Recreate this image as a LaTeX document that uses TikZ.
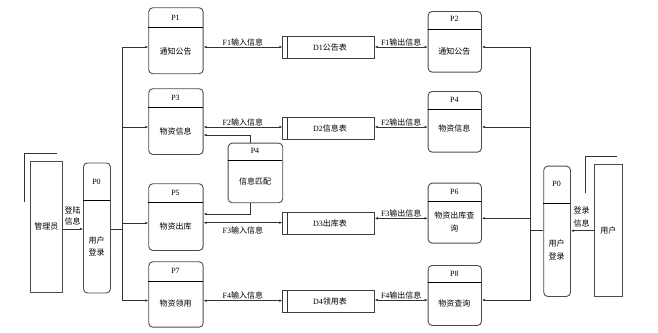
\documentclass[tikz,border=0pt]{standalone}
\usepackage{fontspec}
\setmainfont{Liberation Serif}
\newfontfamily\cjk{Noto Sans CJK SC}
\usetikzlibrary{arrows.meta, positioning}
\tikzset{
    % Process box - rounded, gray border
    proc box/.style={draw=black!70, rounded corners=4pt, line width=0.9pt, anchor=north west, inner sep=0pt},
    % Data store - open box with an inner bar
    store box/.style={draw=black!75, line width=0.8pt, anchor=north west, inner sep=0pt},
    % External entity - tall rectangle
    entity box/.style={draw=black!70, line width=0.9pt, anchor=north west, inner sep=0pt, font=\fontsize{8}{10}\selectfont\cjk},
    % Header line of a process box
    divider/.style={draw=black, line width=0.8pt},
    % Connectors
    link/.style={draw=black!80, line width=0.7pt},
    flow/.style={link, -{Latex[length=3pt,width=2.6pt]}},
    both flow/.style={link, {Latex[length=3pt,width=2.6pt]}-{Latex[length=3pt,width=2.6pt]}},
    % Texts: Chinese labels and process numbers
    txt/.style={font=\fontsize{8}{12.5}\selectfont\cjk, inner sep=0pt, align=center},
    num/.style={font=\fontsize{8}{10}\selectfont, inner sep=0pt}
}

\begin{document}
\begin{tikzpicture}[x=1pt, y=-1pt]
    \useasboundingbox (0,0) rectangle (658,332);

    % --- Process boxes: name/x/y/width/height/header line/id/id y/text/text y ---
    \foreach \n/\x/\y/\w/\h/\dv/\id/\iy/\lbl/\ly in {
        P1/148.3/7.3/54.4/66/27.3/P1/17.5/通知公告/51.7,
        P3/148.3/88.3/54.4/65.7/107.7/P3/97.5/物资信息/131,
        P5/148.3/183.3/54.4/66.7/202.7/P5/193.3/物资出库/226,
        P7/148.3/261.3/54.4/65.4/281/P7/271/物资领用/303.3,
        P4m/227.7/142.7/54.6/59.6/160/P4/151/信息匹配/181.7,
        P2/427.7/11/53.3/60.7/29/P2/19/通知公告/51.7,
        P4/427.7/91/53.3/60.7/109.3/P4/99.5/物资信息/128.3,
        P6/427.7/182.7/53.3/60/201/P6/191.7/物资出库查\\询/222,
        P8/427.7/265/53.3/60/282.7/P8/274/物资查询/303.3,
        P0a/83/162.5/27/130/200.7/P0/181.5/用户\\登录/246.3,
        P0b/543.3/165.7/26.7/130.3/203.3/P0/184.3/用户\\登录/250}
    {
        \node[proc box, minimum width=\w, minimum height=\h] (\n) at (\x,\y) {};
        \draw[divider] (\x,\dv) -- ++(\w,0);
        \node[num] (\n-id) at (\x+\w/2,\iy) {\id};
        \node[txt] (\n-txt) at (\x+\w/2,\ly) {\lbl};
    }

    % --- Data stores ---
    \foreach \n/\y/\lbl in {D1/36/公告表, D2/116.7/信息表, D3/212.3/出库表, D4/290/领用表} {
        \node[store box, minimum width=91.7, minimum height=21.8] (\n) at (282.3,\y) {};
        \draw[link] ([xshift=5.4pt]\n.north west) -- ([xshift=5.4pt]\n.south west);
        \node[txt] (\n-txt) at ([xshift=47.7pt]\n.west) {{\rmfamily\n}\lbl};
    }

    % --- External entities ---
    \node[entity box, minimum width=32, minimum height=131.5] (admin) at (30,160.5) {管理员};
    \draw[link] (24,201.5) -- (24,153) -- (57,153);
    \node[entity box, minimum width=27.7, minimum height=131.7] (user) at (594,164.3) {用户};
    \draw[link] (585.7,193.3) -- (585.7,156.7) -- (616.7,156.7);

    % --- Login flows ---
    \draw[flow] (admin.east |- 0,229) -- (P0a.west |- 0,229);
    \node[txt, font=\fontsize{8}{11}\selectfont\cjk] (admin-in) at (72.5,215.5) {登陆\\信息};
    \draw[flow] (user.west |- 0,230.7) -- (P0b.east |- 0,230.7);
    \node[txt, font=\fontsize{8}{13}\selectfont\cjk] (user-in) at (581.7,217.3) {登录\\信息};

    % --- Left bus ---
    \coordinate (busL) at (122.5,0);
    \draw[link] (P0a.east |- 0,229.5) -- (busL |- 0,229.5);
    \draw[link] (busL |- 0,47) -- (busL |- 0,300.5);
    \foreach \n/\y in {P1/47, P3/127, P5/223, P7/300.5}
        \draw[flow] (busL |- 0,\y) -- (\n.west |- 0,\y);

    % --- Right bus ---
    \coordinate (busR) at (530.7,0);
    \draw[link] (P0b.west |- 0,230.7) -- (busR |- 0,230.7);
    \draw[link] (busR |- 0,47) -- (busR |- 0,300.5);
    \foreach \n/\y in {P2/47, P4/127, P6/218.3, P8/300}
        \draw[flow] (busR |- 0,\y) -- (\n.east |- 0,\y);

    % --- Input flows to stores (label anchor / shift) ---
    \foreach \p/\s/\y/\f/\an/\ys in {P1/D1/47/F1/south/0.8pt, P3/D2/127/F2/south/0.8pt, P5/D3/222.7/F3/north/-4pt, P7/D4/300.7/F4/south/0.8pt}
        \draw[both flow] (\p.east |- 0,\y) -- (\s.west |- 0,\y)
            node[txt, midway, anchor=\an, yshift=\ys] {{\rmfamily\f}输入信息};

    % --- Output flows from stores ---
    \foreach \p/\s/\y/\f in {P2/D1/47/F1, P4/D2/127/F2, P6/D3/218.3/F3, P8/D4/300/F4}
        \draw[both flow] (\s.east |- 0,\y) -- (\p.west |- 0,\y)
            node[txt, midway, above=0.8pt] {{\rmfamily\f}输出信息};

    % --- Matching process feeds P3 and P5 ---
    \draw[flow] ([xshift=-5.3pt]P4m.north) |- (P3.east |- 0,135);
    \draw[flow] ([xshift=-5.3pt]P4m.south) |- (P5.east |- 0,214);

\end{tikzpicture}
\end{document}
